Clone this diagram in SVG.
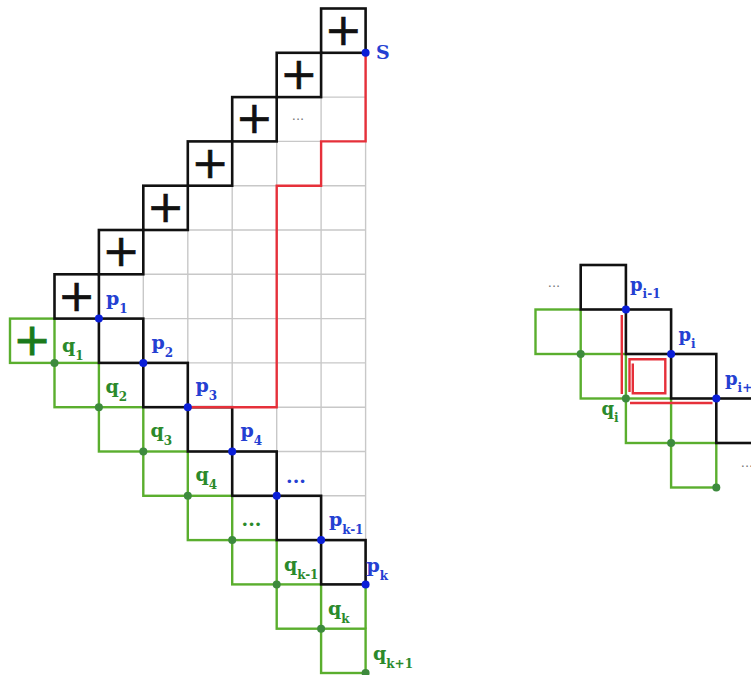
<svg xmlns="http://www.w3.org/2000/svg" width="751" height="675" viewBox="0 0 751 675">
<style>
.grid{fill:none;stroke:#c8c8c8;stroke-width:1.4}
.blk{fill:none;stroke:#111;stroke-width:2.6}
.grn{fill:none;stroke:#5aae2e;stroke-width:2.4}
.red{fill:none;stroke:#e6303a;stroke-width:2.4}
.bd{fill:#0a1ed8}
.gd{fill:#3d8a3d}
.plus{font-family:"DejaVu Sans",sans-serif;font-size:45px;text-anchor:middle;fill:#111;stroke:#111;stroke-width:0.6}
.gplus{fill:#1b7a1b;stroke:#1b7a1b;stroke-width:0.9}
.lb{font-family:"DejaVu Serif",serif;font-weight:bold;font-size:19px}
.lr{font-family:"DejaVu Serif",serif;font-weight:bold;font-size:18px}
.blue{fill:#2440d2}
.green{fill:#2b8a2b}
.sub{font-size:12px}
.dots{font-family:"DejaVu Sans",sans-serif;font-size:13px;fill:#777;text-anchor:middle}
</style>
<g id="grid">
<path class="grid" d="M143.3 230V362.9M187.8 185.7V407.2M232.2 141.4V451.5M276.7 97.1V495.8M321.1 52.8V540.1M365.6 52.8V540.1M321.1 52.8H365.6M276.7 97.1H365.6M232.2 141.4H365.6M187.8 185.7H365.6M143.3 230H365.6M98.9 274.3H365.6M98.9 318.6H365.6M143.3 362.9H365.6M187.8 407.2H365.6M232.2 451.5H365.6M276.7 495.8H365.6M321.1 540.1H365.6"/>
</g>
<g id="green-cells">
<rect class="grn" x="10" y="318.6" width="44.5" height="44.3"/>
<rect class="grn" x="54.5" y="362.9" width="44.4" height="44.3"/>
<rect class="grn" x="98.9" y="407.2" width="44.4" height="44.3"/>
<rect class="grn" x="143.3" y="451.5" width="44.5" height="44.3"/>
<rect class="grn" x="187.8" y="495.8" width="44.4" height="44.3"/>
<rect class="grn" x="232.2" y="540.1" width="44.5" height="44.3"/>
<rect class="grn" x="276.7" y="584.4" width="44.4" height="44.3"/>
<rect class="grn" x="321.1" y="628.7" width="44.5" height="44.3"/>
<path class="grn" d="M365.6 584.4V628.7"/>
</g>
<g id="plus-cells">
<rect class="blk" x="321.1" y="8.5" width="44.5" height="44.3"/>
<rect class="blk" x="276.7" y="52.8" width="44.4" height="44.3"/>
<rect class="blk" x="232.2" y="97.1" width="44.5" height="44.3"/>
<rect class="blk" x="187.8" y="141.4" width="44.4" height="44.3"/>
<rect class="blk" x="143.3" y="185.7" width="44.5" height="44.3"/>
<rect class="blk" x="98.9" y="230" width="44.4" height="44.3"/>
<rect class="blk" x="54.5" y="274.3" width="44.4" height="44.3"/>
<text class="plus" x="343.3" y="44.8">+</text>
<text class="plus" x="298.9" y="89.1">+</text>
<text class="plus" x="254.4" y="133.4">+</text>
<text class="plus" x="210" y="177.7">+</text>
<text class="plus" x="165.5" y="222">+</text>
<text class="plus" x="121.1" y="266.3">+</text>
<text class="plus" x="76.7" y="310.6">+</text>
<text class="plus gplus" x="32.2" y="354.9">+</text>
</g>
<g id="black-cells">
<rect class="blk" x="98.9" y="318.6" width="44.4" height="44.3"/>
<rect class="blk" x="143.3" y="362.9" width="44.5" height="44.3"/>
<rect class="blk" x="187.8" y="407.2" width="44.4" height="44.3"/>
<rect class="blk" x="232.2" y="451.5" width="44.5" height="44.3"/>
<rect class="blk" x="276.7" y="495.8" width="44.4" height="44.3"/>
<rect class="blk" x="321.1" y="540.1" width="44.5" height="44.3"/>
</g>
<g id="connectors">
<path class="red" d="M365.6 52.8V141.4H321.1V185.7H276.7V407.2H187.8"/>
</g>
<g id="left-dots">
<circle class="bd" cx="365.6" cy="52.8" r="4"/>
<circle class="bd" cx="98.9" cy="318.6" r="4"/>
<circle class="bd" cx="143.3" cy="362.9" r="4"/>
<circle class="bd" cx="187.8" cy="407.2" r="4"/>
<circle class="bd" cx="232.2" cy="451.5" r="4"/>
<circle class="bd" cx="276.7" cy="495.8" r="4"/>
<circle class="bd" cx="321.1" cy="540.1" r="4"/>
<circle class="bd" cx="365.6" cy="584.4" r="4"/>
<circle class="gd" cx="54.5" cy="362.9" r="4"/>
<circle class="gd" cx="98.9" cy="407.2" r="4"/>
<circle class="gd" cx="143.3" cy="451.5" r="4"/>
<circle class="gd" cx="187.8" cy="495.8" r="4"/>
<circle class="gd" cx="232.2" cy="540.1" r="4"/>
<circle class="gd" cx="276.7" cy="584.4" r="4"/>
<circle class="gd" cx="321.1" cy="628.7" r="4"/>
<circle class="gd" cx="365.6" cy="673" r="4"/>
</g>
<g id="left-labels">
<text class="lb blue" x="376" y="59">S</text>
<text class="dots" x="298" y="120">...</text>
<text class="lb blue" x="106" y="305">p<tspan class="sub" dy="8">1</tspan></text>
<text class="lb blue" x="151.5" y="349">p<tspan class="sub" dy="8">2</tspan></text>
<text class="lb blue" x="195.5" y="392">p<tspan class="sub" dy="8">3</tspan></text>
<text class="lb blue" x="240.5" y="436.5">p<tspan class="sub" dy="8">4</tspan></text>
<text class="lb blue" x="296" y="483" text-anchor="middle" font-size="14">...</text>
<text class="lb blue" x="329" y="526">p<tspan class="sub" dy="8">k-1</tspan></text>
<text class="lb blue" x="366.5" y="571.5">p<tspan class="sub" dy="8">k</tspan></text>
<text class="lb green" x="62" y="351.5">q<tspan class="sub" dy="8">1</tspan></text>
<text class="lb green" x="105.5" y="393">q<tspan class="sub" dy="8">2</tspan></text>
<text class="lb green" x="150.5" y="437">q<tspan class="sub" dy="8">3</tspan></text>
<text class="lb green" x="195.5" y="481">q<tspan class="sub" dy="8">4</tspan></text>
<text class="lb green" x="251.5" y="526" text-anchor="middle" font-size="12">...</text>
<text class="lb green" x="284" y="571">q<tspan class="sub" dy="8">k-1</tspan></text>
<text class="lb green" x="328" y="615">q<tspan class="sub" dy="8">k</tspan></text>
<text class="lb green" x="373" y="660">q<tspan class="sub" dy="8">k+1</tspan></text>
</g>
<g id="right-figure">
<rect class="grn" x="535.5" y="309.5" width="45.2" height="44.5"/>
<rect class="grn" x="580.7" y="354" width="45.2" height="44.5"/>
<rect class="grn" x="625.9" y="398.5" width="45.2" height="44.5"/>
<rect class="grn" x="671.1" y="443" width="45.2" height="44.5"/>
<rect class="blk" x="580.7" y="265" width="45.2" height="44.5"/>
<rect class="blk" x="625.9" y="309.5" width="45.2" height="44.5"/>
<rect class="blk" x="671.1" y="354" width="45.2" height="44.5"/>
<rect class="blk" x="716.3" y="398.5" width="45.2" height="44.5"/>
<path class="red" d="M621.8 315V394"/>
<path class="red" d="M629.5 392V359.3H665.3V393.3H632.8V363.5"/>
<path class="red" d="M630 403H712.5"/>
<circle class="bd" cx="625.9" cy="309.5" r="4"/>
<circle class="bd" cx="671.1" cy="354" r="4"/>
<circle class="bd" cx="716.3" cy="398.5" r="4"/>
<circle class="gd" cx="580.7" cy="354" r="4"/>
<circle class="gd" cx="625.9" cy="398.5" r="4"/>
<circle class="gd" cx="671.1" cy="443" r="4"/>
<circle class="gd" cx="716.3" cy="487.5" r="4"/>
<text class="dots" x="554" y="287">...</text>
<text class="dots" x="747" y="467" text-anchor="start">...</text>
<text class="lr blue" x="630" y="291">p<tspan class="sub" dy="7">i-1</tspan></text>
<text class="lr blue" x="678.5" y="341">p<tspan class="sub" dy="7">i</tspan></text>
<text class="lr blue" x="725" y="384.5">p<tspan class="sub" dy="7">i+1</tspan></text>
<text class="lr green" x="601.5" y="414.5">q<tspan class="sub" dy="7">i</tspan></text>
</g>
</svg>
